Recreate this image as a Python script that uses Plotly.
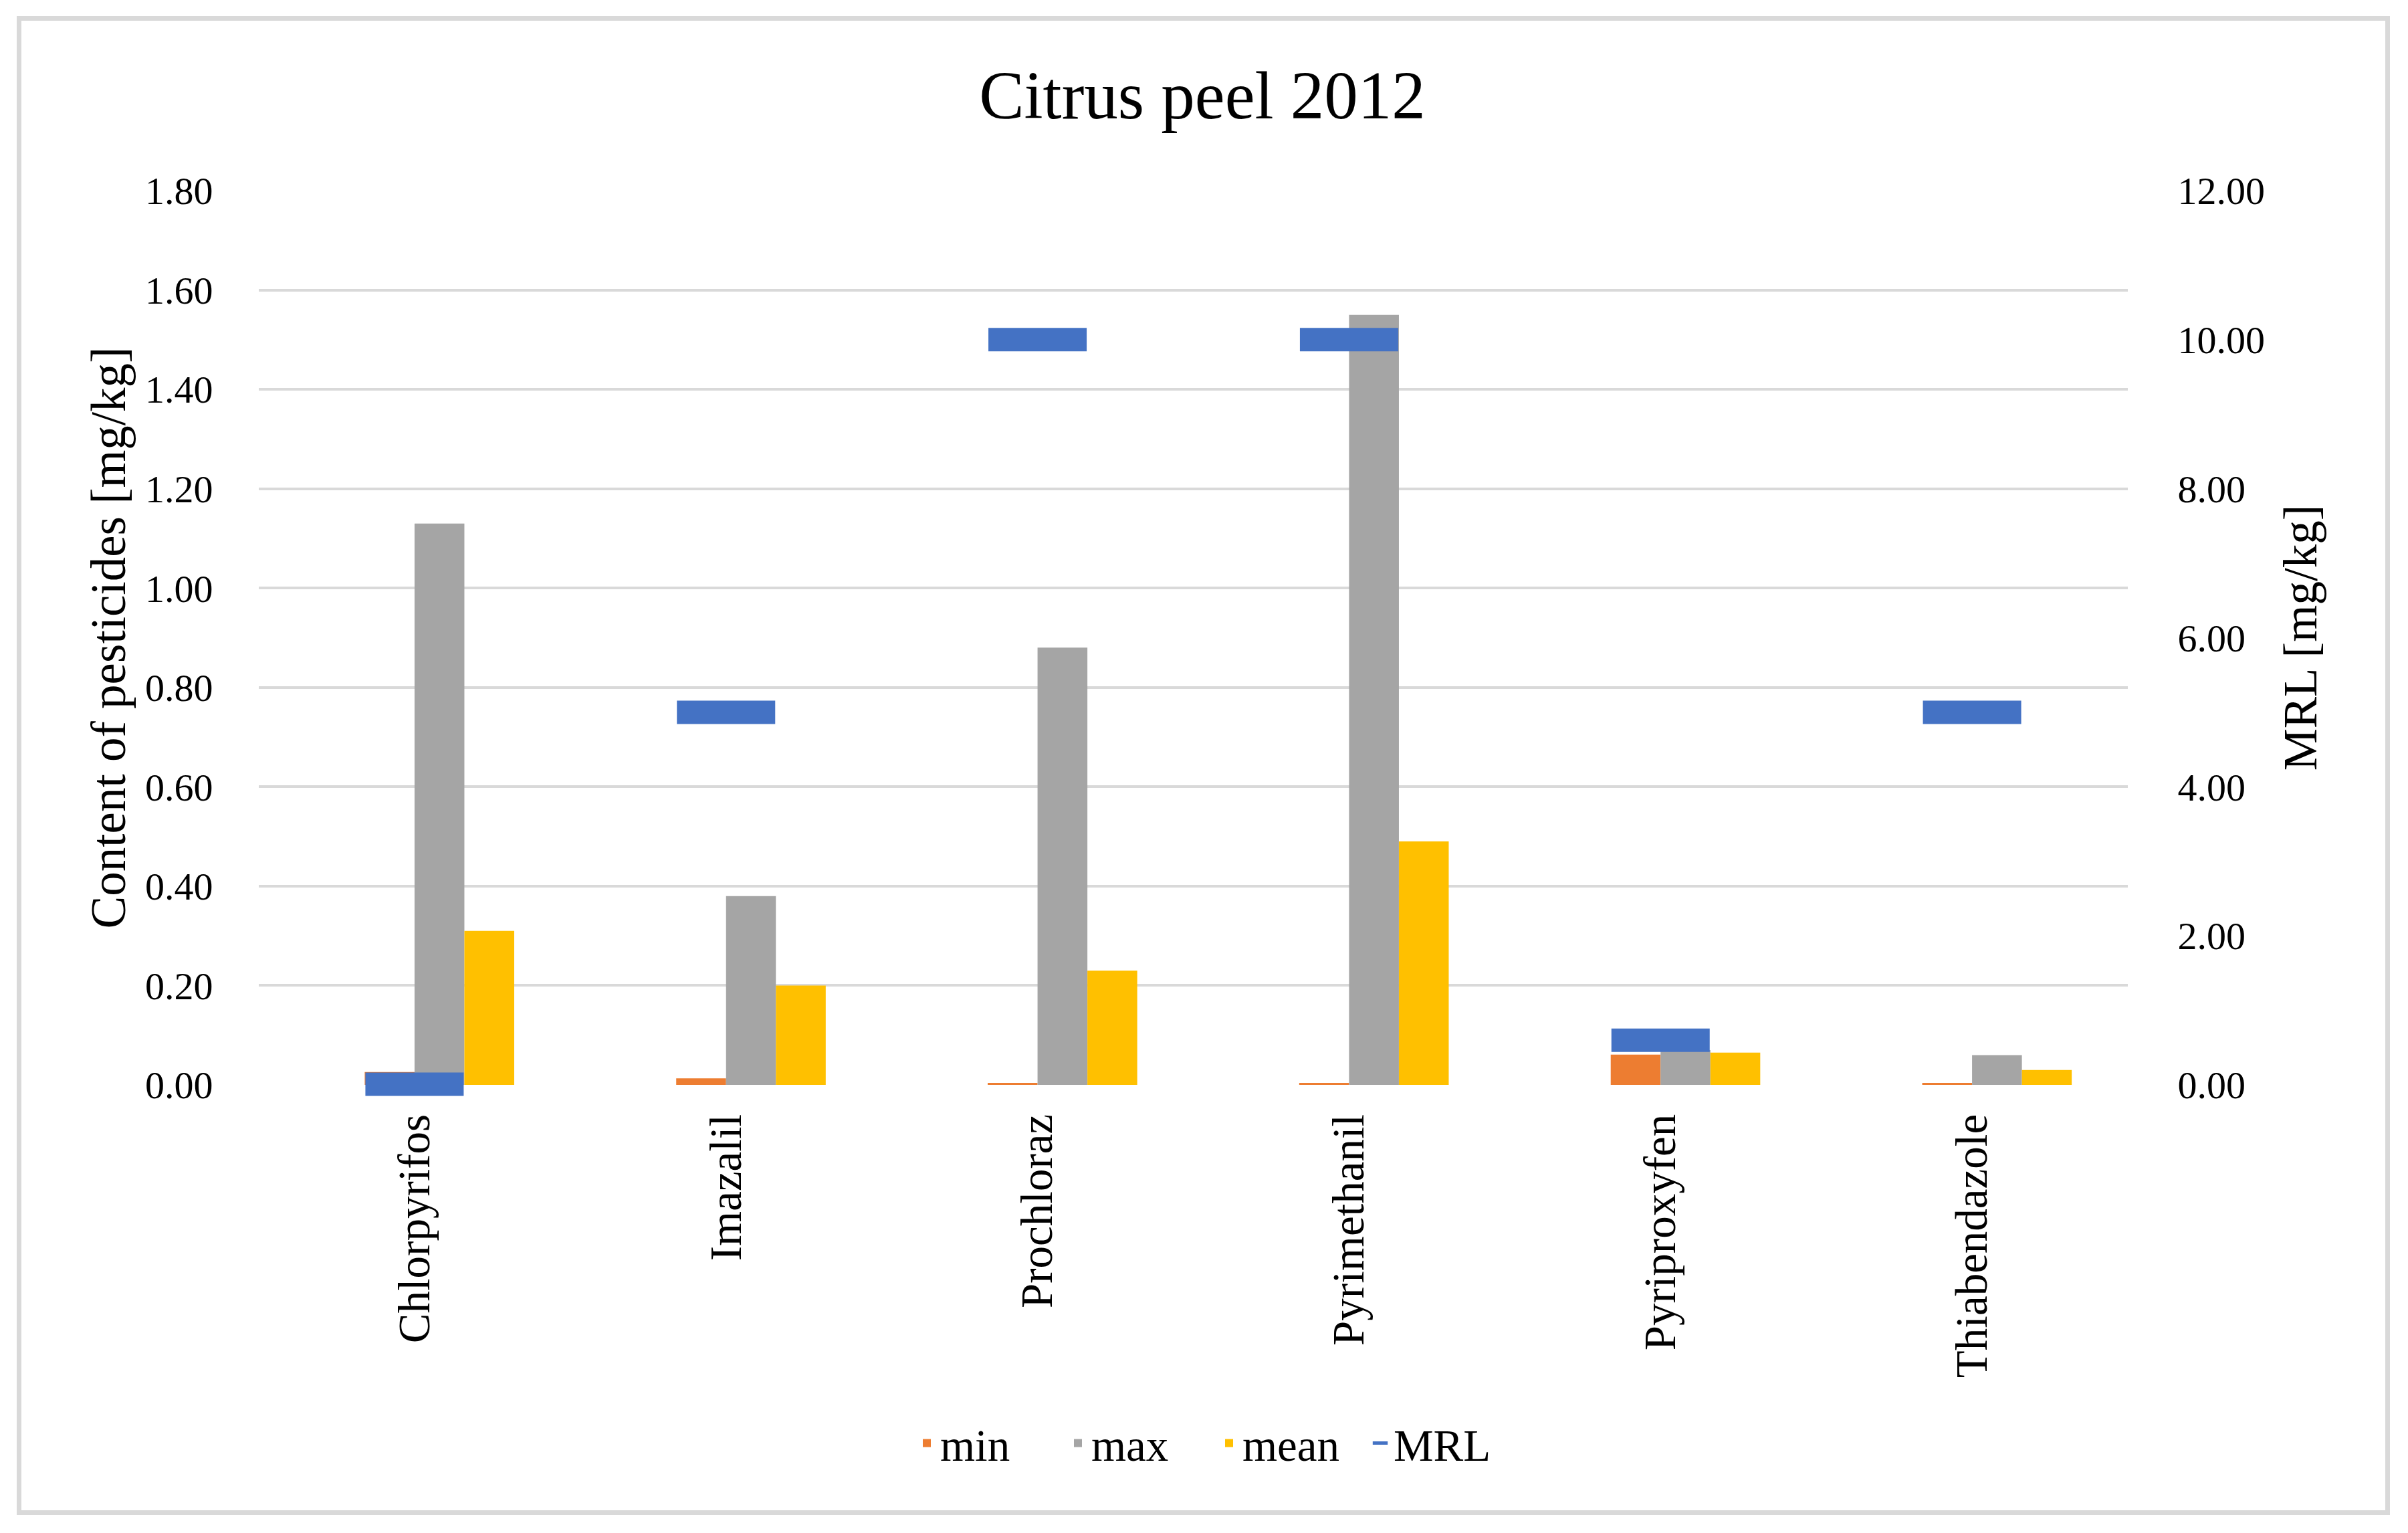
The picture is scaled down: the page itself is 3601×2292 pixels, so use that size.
import plotly.graph_objects as go

# ---- data ----
categories = ["Chlorpyrifos", "Imazalil", "Prochloraz", "Pyrimethanil", "Pyriproxyfen", "Thiabendazole"]
min_vals = [0.026, 0.013, 0.004, 0.004, 0.061, 0.004]
max_vals = [1.13, 0.38, 0.88, 1.55, 0.07, 0.06]
mean_vals = [0.31, 0.20, 0.23, 0.49, 0.065, 0.03]
mrl_vals = [0.01, 5.0, 10.0, 10.0, 0.6, 5.0]
left_ticks = [0, 0.2, 0.4, 0.6, 0.8, 1.0, 1.2, 1.4, 1.6, 1.8]
right_ticks = [0, 2, 4, 6, 8, 10, 12]

# ---- styling ----
FONT = "Palatino Linotype, Book Antiqua, Liberation Serif, serif"
C_MIN, C_MAX, C_MEAN, C_MRL = "#ED7D31", "#A5A5A5", "#FFC000", "#4472C4"
GRID = "#D9D9D9"
OFF = 8                      # page offset of the figure (body margin)
W, H = 3585, 2276            # figure size
L, R, T, B = 379, 411, 277, 662
PW, PH = W - L - R, H - T - B

def px_x(p):                 # page x pixel -> paper coordinate
    return (p - OFF - L) / PW

def px_y(p):                 # page y pixel -> paper coordinate
    return (H - B - (p - OFF)) / PH

BW = 0.16

fig = go.Figure()
fig.add_trace(go.Bar(x=categories, y=min_vals, name="min", marker_color=C_MIN,
                     width=BW, offset=-BW, marker_line_width=0))
fig.add_trace(go.Bar(x=categories, y=max_vals, name="max", marker_color=C_MAX,
                     width=BW, offset=0, marker_line_width=0))
fig.add_trace(go.Bar(x=categories, y=mean_vals, name="mean", marker_color=C_MEAN,
                     width=BW, offset=BW, marker_line_width=0))
fig.add_trace(go.Scatter(x=categories, y=mrl_vals, name="MRL", yaxis="y2", mode="markers",
                         cliponaxis=False,
                         marker=dict(symbol="line-ew", size=105, color=C_MRL,
                                     line=dict(color=C_MRL, width=35))))

fig.update_layout(
    width=W, height=H, autosize=False,
    margin=dict(l=L, r=R, t=T, b=B, autoexpand=False),
    paper_bgcolor="white", plot_bgcolor="white",
    barmode="overlay",
    font=dict(family=FONT, color="#000000", size=60),
    title=dict(text="Citrus peel 2012", x=(1798 - OFF) / W, xref="container", xanchor="center",
               y=1 - (142 - OFF) / H, yref="container", yanchor="middle",
               font=dict(family=FONT, size=101, color="#000000")),
    xaxis=dict(type="category", categoryorder="array", categoryarray=categories,
               range=[-0.5, 5.5], tickangle=-90, showgrid=False, zeroline=False,
               showline=False, ticks="outside", ticklen=16, tickcolor="rgba(0,0,0,0)",
               tickfont=dict(family=FONT, size=67, color="#000000")),
    yaxis=dict(range=[0, 1.8], tickvals=left_ticks, tickformat=".2f",
               showgrid=True, gridcolor=GRID, gridwidth=4, zeroline=False, showline=False,
               ticks="outside", ticklen=56, tickcolor="rgba(0,0,0,0)",
               tickfont=dict(family=FONT, size=58, color="#000000"),
               title=dict(text="Content of pesticides [mg/kg]", standoff=5,
                          font=dict(family=FONT, size=73, color="#000000"))),
    yaxis2=dict(range=[0, 12], tickvals=right_ticks, tickformat=".2f", overlaying="y",
                side="right", showgrid=False, zeroline=False, showline=False,
                ticks="outside", ticklen=62, tickcolor="rgba(0,0,0,0)",
                tickfont=dict(family=FONT, size=58, color="#000000"),
                title=dict(text="MRL [mg/kg]", standoff=28,
                           font=dict(family=FONT, size=71, color="#000000"))),
    legend=dict(orientation="h", x=px_x(1818), xanchor="center", y=px_y(2158),
                yanchor="middle", font=dict(family=FONT, size=67, color="#000000"),
                entrywidth=181, bgcolor="rgba(0,0,0,0)"),
    shapes=[dict(type="rect", xref="paper", yref="paper",
                 x0=px_x(28.5), x1=px_x(3570.5), y0=px_y(2261.5), y1=px_y(27.5),
                 line=dict(color=GRID, width=7), fillcolor="rgba(0,0,0,0)", layer="below")],
)

fig.write_html("out.html")
